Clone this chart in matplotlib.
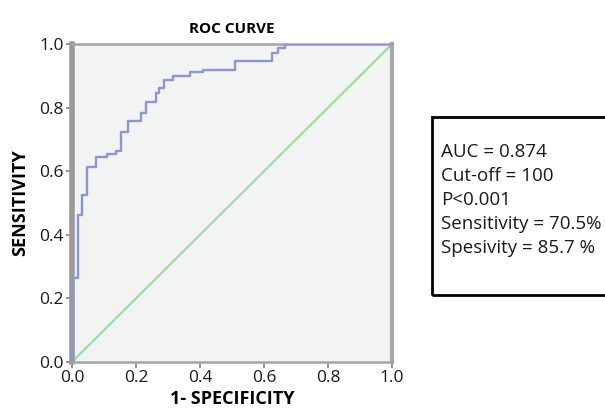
import numpy as np
import matplotlib
matplotlib.use("Agg")
import matplotlib.pyplot as plt
from matplotlib.patches import Rectangle

plt.rcParams['font.family'] = ['Open Sans', 'DejaVu Sans']

# ROC curve operating points (1-specificity, sensitivity)
fpr = [0.0, 0.004, 0.018, 0.031, 0.046, 0.075, 0.110, 0.138, 0.153, 0.175,
       0.216, 0.231, 0.262, 0.272, 0.287, 0.316, 0.369, 0.410, 0.509, 0.625,
       0.644, 0.666, 1.0]
tpr = [0.0, 0.264, 0.462, 0.525, 0.613, 0.645, 0.654, 0.663, 0.723, 0.758,
       0.783, 0.818, 0.846, 0.862, 0.887, 0.900, 0.912, 0.918, 0.947, 0.972,
       0.987, 1.0, 1.0]
ref = [0.0, 1.0]
ticks = [0.0, 0.2, 0.4, 0.6, 0.8, 1.0]
tickLabs = ["0.0", "0.2", "0.4", "0.6", "0.8", "1.0"]
stats = ["AUC = 0.874", "Cut-off = 100", "P<0.001",
         "Sensitivity = 70.5%", "Spesivity = 85.7 %"]

fig = plt.figure(figsize=(6.05, 4.08), dpi=100)
ax = fig.add_axes([0.119, 0.113, 0.529, 0.779])
ax.set_facecolor("#f2f3f3")

ax.plot(ref, ref, color="#a0d8a0", lw=1.5, zorder=2)
ax.plot(fpr, tpr, drawstyle="steps-post", color="#8c96d2", lw=1.7, zorder=3)

ax.set_xlim(0, 1)
ax.set_ylim(0, 1)
ax.set_xticks(ticks)
ax.set_xticklabels(tickLabs)
ax.set_yticks(ticks)
ax.set_yticklabels(tickLabs)
ax.tick_params(axis="both", labelsize=12.5, length=4, width=1.2,
               color="#808080", labelcolor="#1a1a1a", pad=2)

ax.spines["left"].set_linewidth(4)
ax.spines["left"].set_color("#9a9a9a")
ax.spines["right"].set_linewidth(3)
ax.spines["right"].set_color("#a8a8a8")
ax.spines["top"].set_linewidth(1.8)
ax.spines["top"].set_color("#a5a5a5")
ax.spines["bottom"].set_linewidth(1.8)
ax.spines["bottom"].set_color("#a5a5a5")

ax.set_title("ROC CURVE", fontsize=11, fontweight="bold", pad=8)
ax.set_xlabel("1- SPECIFICITY", fontsize=13, fontweight="bold", labelpad=3)
ax.set_ylabel("SENSITIVITY", fontsize=13, fontweight="bold", labelpad=7)

# stats box
box = Rectangle((432 / 605, 1 - 295 / 408), 0.30, 178 / 408,
                transform=fig.transFigure, fill=False, edgecolor="black",
                lw=2, clip_on=False)
fig.patches.append(box)
y0 = 1 - 152 / 408
for i, s in enumerate(stats):
    fig.text(441 / 605, y0 - i * 24 / 408, s, fontsize=13.5,
             va="center", ha="left", color="#1a1a1a")

fig.savefig("out.png", dpi=100)
